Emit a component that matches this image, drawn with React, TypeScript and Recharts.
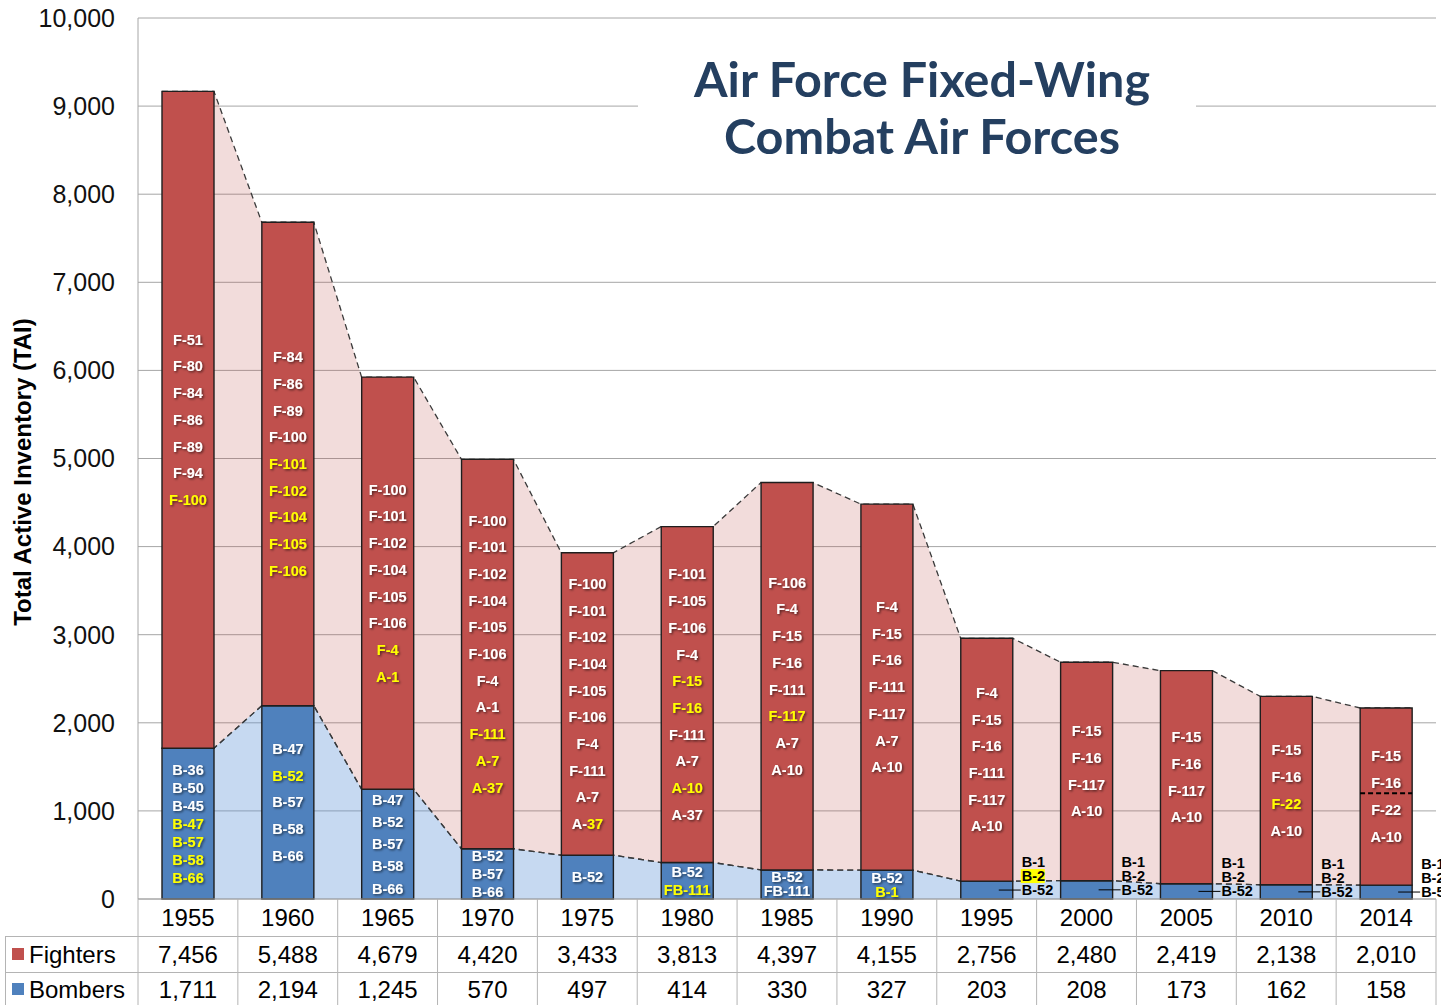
import React from 'react';
import { ComposedChart, Bar, Area, XAxis, YAxis, CartesianGrid, LabelList, ReferenceLine } from 'recharts';

// ---------- data ----------
const years = ['1955', '1960', '1965', '1970', '1975', '1980', '1985', '1990', '1995', '2000', '2005', '2010', '2014'];
const fighters = [7456, 5488, 4679, 4420, 3433, 3813, 4397, 4155, 2756, 2480, 2419, 2138, 2010];
const bombers = [1711, 2194, 1245, 570, 497, 414, 330, 327, 203, 208, 173, 162, 158];
const yTicks = [0, 1000, 2000, 3000, 4000, 5000, 6000, 7000, 8000, 9000, 10000];
const dividerValue2014 = 1200;

// '*' prefix = yellow text, '|' splits a label into differently coloured parts
const fighterTypes: string[][] = [
  ['F-51', 'F-80', 'F-84', 'F-86', 'F-89', 'F-94', '*F-100'],
  ['F-84', 'F-86', 'F-89', 'F-100', '*F-101', '*F-102', '*F-104', '*F-105', '*F-106'],
  ['F-100', 'F-101', 'F-102', 'F-104', 'F-105', 'F-106', '*F-4', '*A-1'],
  ['F-100', 'F-101', 'F-102', 'F-104', 'F-105', 'F-106', 'F-4', 'A-1', '*F-111', '*A-7', '*A-37'],
  ['F-100', 'F-101', 'F-102', 'F-104', 'F-105', 'F-106', 'F-4', 'F-111', 'A-7', 'A-|*37'],
  ['F-101', 'F-105', 'F-106', 'F-4', '*F-15', '*F-16', 'F-111', 'A-7', '*A-10', 'A-37'],
  ['F-106', 'F-4', 'F-15', 'F-16', 'F-111', '*F-117', 'A-7', 'A-10'],
  ['F-4', 'F-15', 'F-16', 'F-111', 'F-117', 'A-7', 'A-10'],
  ['F-4', 'F-15', 'F-16', 'F-111', 'F-117', 'A-10'],
  ['F-15', 'F-16', 'F-117', 'A-10'],
  ['F-15', 'F-16', 'F-117', 'A-10'],
  ['F-15', 'F-16', '*F-22', 'A-10'],
  ['F-15', 'F-16', 'F-22', 'A-10'],
];
const bomberTypes: string[][] = [
  ['B-36', 'B-50', 'B-45', '*B-47', '*B-57', '*B-58', '*B-66'],
  ['B-47', '*B-52', 'B-57', 'B-58', 'B-66'],
  ['B-47', 'B-52', 'B-57', 'B-58', 'B-66'],
  ['B-52', 'B-57', 'B-66'],
  ['B-52'],
  ['B-52', '*FB-111'],
  ['B-52', 'FB-111'],
  ['B-52', '*B-1'],
  [], [], [], [], [],
];
// '#' prefix = yellow highlight box
const bomberTypesOutside: string[][] = [
  [], [], [], [], [], [], [], [],
  ['B-1', '#B-2', 'B-52'],
  ['B-1', 'B-2', 'B-52'],
  ['B-1', 'B-2', 'B-52'],
  ['B-1', 'B-2', 'B-52'],
  ['B-1', 'B-2', 'B-52'],
];
const bomberLineGap = [18, 26.7, 22.3, 18, 18, 18, 14, 14, 14, 14, 14, 14, 14];

// ---------- layout / style ----------
const W = 1441;
const H = 1005;
const M = { top: 18, right: 5, bottom: 0, left: 0 };
const Y_AXIS_W = 138;
const X_AXIS_H = 106;
const PLOT_W = W - M.left - M.right - Y_AXIS_W;
const CELL_W = PLOT_W / years.length;
const BAR_PX = 52;
const HALF = BAR_PX / 2 / CELL_W; // half bar width in category units
const FONT = "'Liberation Sans', Arial, Helvetica, sans-serif";
const GRID = '#a6a6a6';
const TABLE_LINE = '#b4b4b4';
const RED = '#c0504d';
const BLUE = '#4f81bd';
const X_DOMAIN: [number, number] = [-0.5, years.length - 0.5];

const barData = years.map((y, i) => ({ x: i, year: y, fighters: fighters[i], bombers: bombers[i] }));
const edgeData = years.flatMap((_, i) => {
  const t = fighters[i] + bombers[i];
  return [
    { x: i - HALF, b: bombers[i], r: [bombers[i], t] },
    { x: i + HALF, b: bombers[i], r: [bombers[i], t] },
  ];
});

function getBox(p: any) {
  const vb = p.viewBox || {};
  return {
    x: Number(p.x ?? vb.x),
    y: Number(p.y ?? vb.y),
    width: Number(p.width ?? vb.width),
    height: Number(p.height ?? vb.height),
    index: Number(p.index),
  };
}

function LabelLine({ text, x, y, color, shadow, anchor = 'middle' }: any) {
  const segs = String(text).split('|');
  return (
    <text
      x={x}
      y={y}
      textAnchor={anchor}
      dominantBaseline="central"
      fontFamily={FONT}
      fontWeight={700}
      fontSize={14.5}
      filter={shadow ? 'url(#txtShadow)' : undefined}
    >
      {segs.map((s, k) => {
        const yel = s.startsWith('*');
        return (
          <tspan key={k} fill={yel ? '#ffff00' : color}>
            {yel ? s.slice(1) : s}
          </tspan>
        );
      })}
    </text>
  );
}

const fighterLabels = (props: any) => {
  const { x, y, width, height, index } = getBox(props);
  const lines = fighterTypes[index] || [];
  const cx = x + width / 2;
  const cy = y + height / 2;
  const gap = 26.7;
  return (
    <g>
      {lines.map((t, k) => (
        <LabelLine key={k} text={t} x={cx} y={cy + (k - (lines.length - 1) / 2) * gap} color="#ffffff" shadow />
      ))}
    </g>
  );
};

const bomberLabels = (props: any) => {
  const { x, y, width, height, index } = getBox(props);
  const lines = bomberTypes[index] || [];
  const outside = bomberTypesOutside[index] || [];
  const cx = x + width / 2;
  const cy = y + height / 2;
  const gap = bomberLineGap[index] || 14;
  const right = x + width;
  return (
    <g>
      {lines.map((t, k) => (
        <LabelLine key={k} text={t} x={cx} y={cy + (k - (lines.length - 1) / 2) * gap} color="#ffffff" shadow />
      ))}
      {outside.length > 0 && (
        <line x1={right - 14} x2={right + 8} y1={cy} y2={cy} stroke="#000" strokeWidth={1} />
      )}
      {outside.map((t, k) => {
        const ly = cy - (outside.length - 1 - k) * 14;
        const hl = t.startsWith('#');
        const txt = hl ? t.slice(1) : t;
        return (
          <g key={'o' + k}>
            {hl && <rect x={right + 8} y={ly - 7} width={24} height={14} fill="#ffff00" />}
            <LabelLine text={txt} x={right + 9} y={ly} color="#000000" anchor="start" />
          </g>
        );
      })}
    </g>
  );
};

const TableTick = (props: any) => {
  const { x, y, payload } = props;
  const i = Number(payload.value);
  if (!(i >= 0 && i < years.length)) return null;
  const l = x - CELL_W / 2;
  const r = x + CELL_W / 2;
  const txt = { fontFamily: FONT, fontSize: 24, fill: '#000', textAnchor: 'middle' as const, dominantBaseline: 'central' as const };
  return (
    <g>
      {i === 0 && <line x1={l} x2={l} y1={y} y2={y + X_AXIS_H} stroke={TABLE_LINE} />}
      <line x1={r} x2={r} y1={y} y2={y + X_AXIS_H} stroke={TABLE_LINE} />
      <line x1={l} x2={r} y1={y + 37.5} y2={y + 37.5} stroke={TABLE_LINE} />
      <line x1={l} x2={r} y1={y + 73.5} y2={y + 73.5} stroke={TABLE_LINE} />
      <text x={x} y={y + 18.5} {...txt}>{years[i]}</text>
      <text x={x} y={y + 55} {...txt}>{fighters[i].toLocaleString('en-US')}</text>
      <text x={x} y={y + 90} {...txt}>{bombers[i].toLocaleString('en-US')}</text>
    </g>
  );
};

export default function App() {
  const plotBottom = H - M.bottom - X_AXIS_H;
  return (
    <div style={{ position: 'absolute', left: 0, top: 0, width: W, height: H, background: '#fff', overflow: 'hidden' }}>
      <svg width={0} height={0} style={{ position: 'absolute' }}>
        <defs>
          <filter id="txtShadow" x="-20%" y="-30%" width="150%" height="170%">
            <feDropShadow dx={1.3} dy={1.3} stdDeviation={0.8} floodColor="#000" floodOpacity={0.6} />
          </filter>
        </defs>
      </svg>
      <ComposedChart width={W} height={H} data={barData} margin={M}>
        <CartesianGrid vertical={false} stroke={GRID} />
        <XAxis
          xAxisId="cat"
          type="number"
          dataKey="x"
          domain={X_DOMAIN}
          allowDataOverflow
          ticks={years.map((_, i) => i)}
          interval={0}
          height={X_AXIS_H}
          tickSize={0}
          tickMargin={0}
          tickLine={false}
          axisLine={{ stroke: GRID }}
          tick={(p: any) => <TableTick {...p} />}
        />
        <XAxis xAxisId="edge" type="number" dataKey="x" domain={X_DOMAIN} allowDataOverflow hide />
        <YAxis
          type="number"
          domain={[0, 10000]}
          ticks={yTicks}
          interval={0}
          width={Y_AXIS_W}
          tickLine={false}
          tickSize={0}
          tickMargin={23}
          axisLine={{ stroke: GRID }}
          tickFormatter={(v: number) => v.toLocaleString('en-US')}
          tick={{ fontFamily: FONT, fontSize: 25, fill: '#111' }}
        />
        <Area
          xAxisId="edge"
          data={edgeData}
          dataKey="r"
          type="linear"
          fill={RED}
          fillOpacity={0.2}
          stroke="#3a3a3a"
          strokeWidth={1.3}
          strokeDasharray="6 4"
          isAnimationActive={false}
          dot={false}
          activeDot={false}
        />
        <Area
          xAxisId="edge"
          data={edgeData}
          dataKey="b"
          type="linear"
          fill="#5c92d7"
          fillOpacity={0.35}
          stroke="#3a3a3a"
          strokeWidth={1.3}
          strokeDasharray="6 4"
          isAnimationActive={false}
          dot={false}
          activeDot={false}
        />
        <Bar xAxisId="cat" dataKey="bombers" stackId="s" barSize={BAR_PX} fill={BLUE} stroke="#1e1e1e" strokeWidth={1.4} isAnimationActive={false}>
          <LabelList dataKey="bombers" content={bomberLabels} />
        </Bar>
        <Bar xAxisId="cat" dataKey="fighters" stackId="s" barSize={BAR_PX} fill={RED} stroke="#1e1e1e" strokeWidth={1.4} isAnimationActive={false}>
          <LabelList dataKey="fighters" content={fighterLabels} />
        </Bar>
        <ReferenceLine
          xAxisId="edge"
          segment={[
            { x: years.length - 1 - HALF, y: dividerValue2014 },
            { x: years.length - 1 + HALF, y: dividerValue2014 },
          ]}
          stroke="#000"
          strokeWidth={2}
          strokeDasharray="5 3"
        />
      </ComposedChart>
      <svg width={W} height={H} style={{ position: 'absolute', left: 0, top: 0, pointerEvents: 'none' }}>
        {/* title */}
        <rect x={638} y={40} width={558} height={140} fill="#fff" />
        <text x={922} y={97} textAnchor="middle" fontFamily="Lato, 'Open Sans', sans-serif" fontWeight={700} fontSize={48} fill="#243f60" textLength={456} lengthAdjust="spacingAndGlyphs">
          Air Force Fixed-Wing
        </text>
        <text x={922} y={154} textAnchor="middle" fontFamily="Lato, 'Open Sans', sans-serif" fontWeight={700} fontSize={48} fill="#243f60" textLength={396} lengthAdjust="spacingAndGlyphs">
          Combat Air Forces
        </text>
        {/* y axis title */}
        <text
          x={22}
          y={472}
          transform="rotate(-90 22 472)"
          textAnchor="middle"
          dominantBaseline="central"
          fontFamily={FONT}
          fontWeight={700}
          fontSize={24}
          fill="#000"
        >
          Total Active Inventory (TAI)
        </text>
        {/* table header column */}
        <line x1={5} x2={Y_AXIS_W} y1={plotBottom + 37.5} y2={plotBottom + 37.5} stroke={TABLE_LINE} />
        <line x1={5} x2={Y_AXIS_W} y1={plotBottom + 73.5} y2={plotBottom + 73.5} stroke={TABLE_LINE} />
        <line x1={5.5} x2={5.5} y1={plotBottom + 37.5} y2={H} stroke={TABLE_LINE} />
        <rect x={12} y={plotBottom + 49} width={12} height={12} fill={RED} />
        <text x={29} y={plotBottom + 55} dominantBaseline="central" fontFamily={FONT} fontSize={24} fill="#000">Fighters</text>
        <rect x={12} y={plotBottom + 84} width={12} height={12} fill={BLUE} />
        <text x={29} y={plotBottom + 90} dominantBaseline="central" fontFamily={FONT} fontSize={24} fill="#000">Bombers</text>
      </svg>
    </div>
  );
}
